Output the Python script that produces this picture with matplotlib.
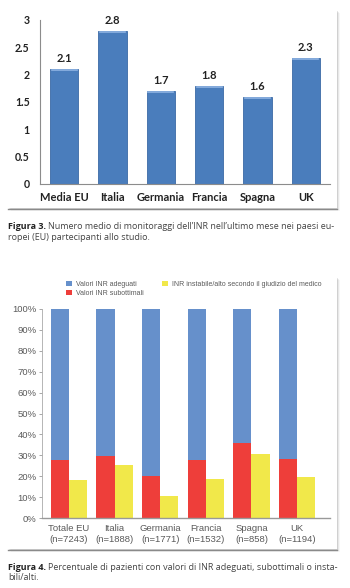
import matplotlib
matplotlib.use('Agg')
import matplotlib.pyplot as plt
from matplotlib.patches import Rectangle
import numpy as np

# ---------------- Figure 3 data ----------------
fig3_categories = ['Media EU', 'Italia', 'Germania', 'Francia', 'Spagna', 'UK']
fig3_values = [2.1, 2.8, 1.7, 1.8, 1.6, 2.3]
fig3_yticks = [0, 0.5, 1, 1.5, 2, 2.5, 3]
fig3_yticklabels = ['0', '0.5', '1', '1.5', '2', '2.5', '3']

# ---------------- Figure 4 data ----------------
fig4_categories = ['Totale EU\n(n=7243)', 'Italia\n(n=1888)', 'Germania\n(n=1771)',
                   'Francia\n(n=1532)', 'Spagna\n(n=858)', 'UK\n(n=1194)']
fig4_subottimali = [27.7, 29.5, 20.0, 27.7, 36.1, 28.2]
fig4_adeguati = [72.3, 70.5, 80.0, 72.3, 63.9, 71.8]
fig4_instabile = [18.2, 25.3, 10.5, 18.5, 30.5, 19.4]
fig4_series_names = ['Valori INR adeguati', 'Valori INR subottimali',
                     'INR instabile/alto secondo il giudizio del medico']
fig4_yticks = list(range(0, 101, 10))
fig4_yticklabels = [f'{t}%' for t in fig4_yticks]

caption3_bold = 'Figura 3.'
caption3_line1 = "Numero medio di monitoraggi dell\u2019INR nell\u2019ultimo mese nei paesi eu-"
caption3_line2 = 'ropei (EU) partecipanti allo studio.'
caption4_bold = 'Figura 4.'
caption4_line1 = 'Percentuale di pazienti con valori di INR adeguati, subottimali o insta-'
caption4_line2 = 'bili/alti.'

W, H = 350, 588
fig = plt.figure(figsize=(3.5, 5.88), dpi=100)
fig.patch.set_facecolor('white')


def rect(x0, y0, x1, y1):
    return [x0 / W, 1 - y1 / H, (x1 - x0) / W, (y1 - y0) / H]


def fx(px):
    return px / W


def fy(py):
    return 1 - py / H


def panel(x0, y0, x1, y1):
    # soft shadow
    for i, a in enumerate([0.10, 0.06, 0.03]):
        fig.add_artist(Rectangle((fx(x0 + 1 + i), fy(y1 + 1 + i)),
                                 (x1 - x0) / W, (y1 - y0) / H,
                                 transform=fig.transFigure, facecolor='#000000',
                                 alpha=a, edgecolor='none', zorder=-3))
    fig.add_artist(Rectangle((fx(x0), fy(y1)), (x1 - x0) / W, (y1 - y0) / H,
                             transform=fig.transFigure, facecolor='white',
                             edgecolor='none', zorder=-2))
    fig.add_artist(plt.Line2D([fx(x0), fx(x1)], [fy(y1 + 1), fy(y1 + 1)],
                              transform=fig.transFigure, color='#8a8a8a',
                              lw=1.0, zorder=-1))


panel(8, 10, 337, 208)
panel(8, 277, 337, 549)

# ---------------- Figure 3 chart ----------------
bold_font = 'Lato'
ax1 = fig.add_axes(rect(40, 20, 330, 184))
ax1.set_zorder(5)
ax1.set_facecolor('none')
x1 = np.arange(len(fig3_categories))
bars = ax1.bar(x1, fig3_values, width=0.58, color='#4a7dbc',
               edgecolor='#3b6aa6', linewidth=0.6, zorder=2)
# light top edge (bevel-like)
for b in bars:
    ax1.plot([b.get_x() + 0.03, b.get_x() + b.get_width() - 0.03],
             [b.get_height() - 0.02] * 2, color='#8fb4e3', lw=1.2, zorder=3)
for xi, v in zip(x1, fig3_values):
    ax1.annotate(f'{v:.1f}', (xi, v), xytext=(0, 3.5), textcoords='offset points',
                 ha='center', va='bottom', fontsize=8, fontweight='bold',
                 family=bold_font, color='#222222')
ax1.set_xlim(-0.5, len(fig3_categories) - 0.5)
ax1.set_ylim(0, 3)
ax1.set_yticks(fig3_yticks)
ax1.set_yticklabels(fig3_yticklabels)
ax1.set_xticks(x1)
ax1.set_xticklabels(fig3_categories)
for lab in ax1.get_xticklabels() + ax1.get_yticklabels():
    lab.set_fontfamily(bold_font)
    lab.set_fontweight('bold')
    lab.set_color('#222222')
    lab.set_fontsize(8)
for lab in ax1.get_yticklabels():
    lab.set_fontsize(7.6)
ax1.tick_params(axis='y', length=0, pad=7.5)
ax1.tick_params(axis='x', length=0, pad=6)
for s in ['top', 'right']:
    ax1.spines[s].set_visible(False)
for s in ['left', 'bottom']:
    ax1.spines[s].set_color('#8c8c8c')
    ax1.spines[s].set_linewidth(0.8)

# ---------------- Captions ----------------
cap_font = 'Open Sans'
cap_size = 6.5


def caption(y_line1, y_line2, bold, line1, line2):
    t = fig.text(fx(8), fy(y_line1), bold, fontsize=cap_size, fontweight='bold',
                 family=cap_font, color='#222222', va='center', ha='left')
    fig.canvas.draw()
    bb = t.get_window_extent()
    fig.text((bb.x1 + 2.5) / fig.bbox.width, fy(y_line1), line1, fontsize=cap_size,
             family=cap_font, color='#444444', va='center', ha='left')
    fig.text(fx(8), fy(y_line2), line2, fontsize=cap_size, family=cap_font,
             color='#444444', va='center', ha='left')


caption(227, 238, caption3_bold, caption3_line1, caption3_line2)
caption(567, 578, caption4_bold, caption4_line1, caption4_line2)

# ---------------- Figure 4 chart ----------------
reg_font = 'Liberation Sans'
ax2 = fig.add_axes(rect(42, 309, 330, 518))
ax2.set_zorder(5)
ax2.set_facecolor('none')
x2 = np.arange(len(fig4_categories))
bw = 0.4
h_red = ax2.bar(x2 - bw / 2, fig4_subottimali, width=bw, color='#ee3e3a',
                label=fig4_series_names[1], zorder=2)
h_blue = ax2.bar(x2 - bw / 2, fig4_adeguati, width=bw, bottom=fig4_subottimali,
                 color='#6690cb', label=fig4_series_names[0], zorder=2)
h_yel = ax2.bar(x2 + bw / 2, fig4_instabile, width=bw, color='#f1e84a',
                label=fig4_series_names[2], zorder=2)
ax2.set_xlim(-0.59, 5.72)
ax2.set_ylim(0, 100)
ax2.set_yticks(fig4_yticks)
ax2.set_yticklabels(fig4_yticklabels)
ax2.set_xticks(x2)
ax2.set_xticklabels(fig4_categories, linespacing=1.35)
for lab in ax2.get_xticklabels() + ax2.get_yticklabels():
    lab.set_fontfamily(reg_font)
    lab.set_color('#5a5a5a')
    lab.set_fontsize(6.8)
ax2.tick_params(axis='y', length=2.5, width=0.6, color='#999999', pad=1.5)
ax2.tick_params(axis='x', length=0, pad=4)
for s in ['top', 'right']:
    ax2.spines[s].set_visible(False)
ax2.spines['left'].set_color('#aaaaaa')
ax2.spines['left'].set_linewidth(0.6)
ax2.spines['bottom'].set_color('#999999')
ax2.spines['bottom'].set_linewidth(1.0)

leg = fig.legend(handles=[h_blue, h_red, h_yel],
                 labels=[fig4_series_names[0], fig4_series_names[1], fig4_series_names[2]],
                 ncol=2, loc='upper left', bbox_to_anchor=(fx(66), fy(281)),
                 frameon=False, prop={'family': reg_font, 'size': 5},
                 handlelength=0.8, handleheight=0.8, handletextpad=0.6,
                 columnspacing=2.7, labelspacing=0.3, borderpad=0, borderaxespad=0)
leg.set_zorder(6)
for t in leg.get_texts():
    t.set_color('#5a5a5a')

fig.savefig('out.png', dpi=100, facecolor='white')
